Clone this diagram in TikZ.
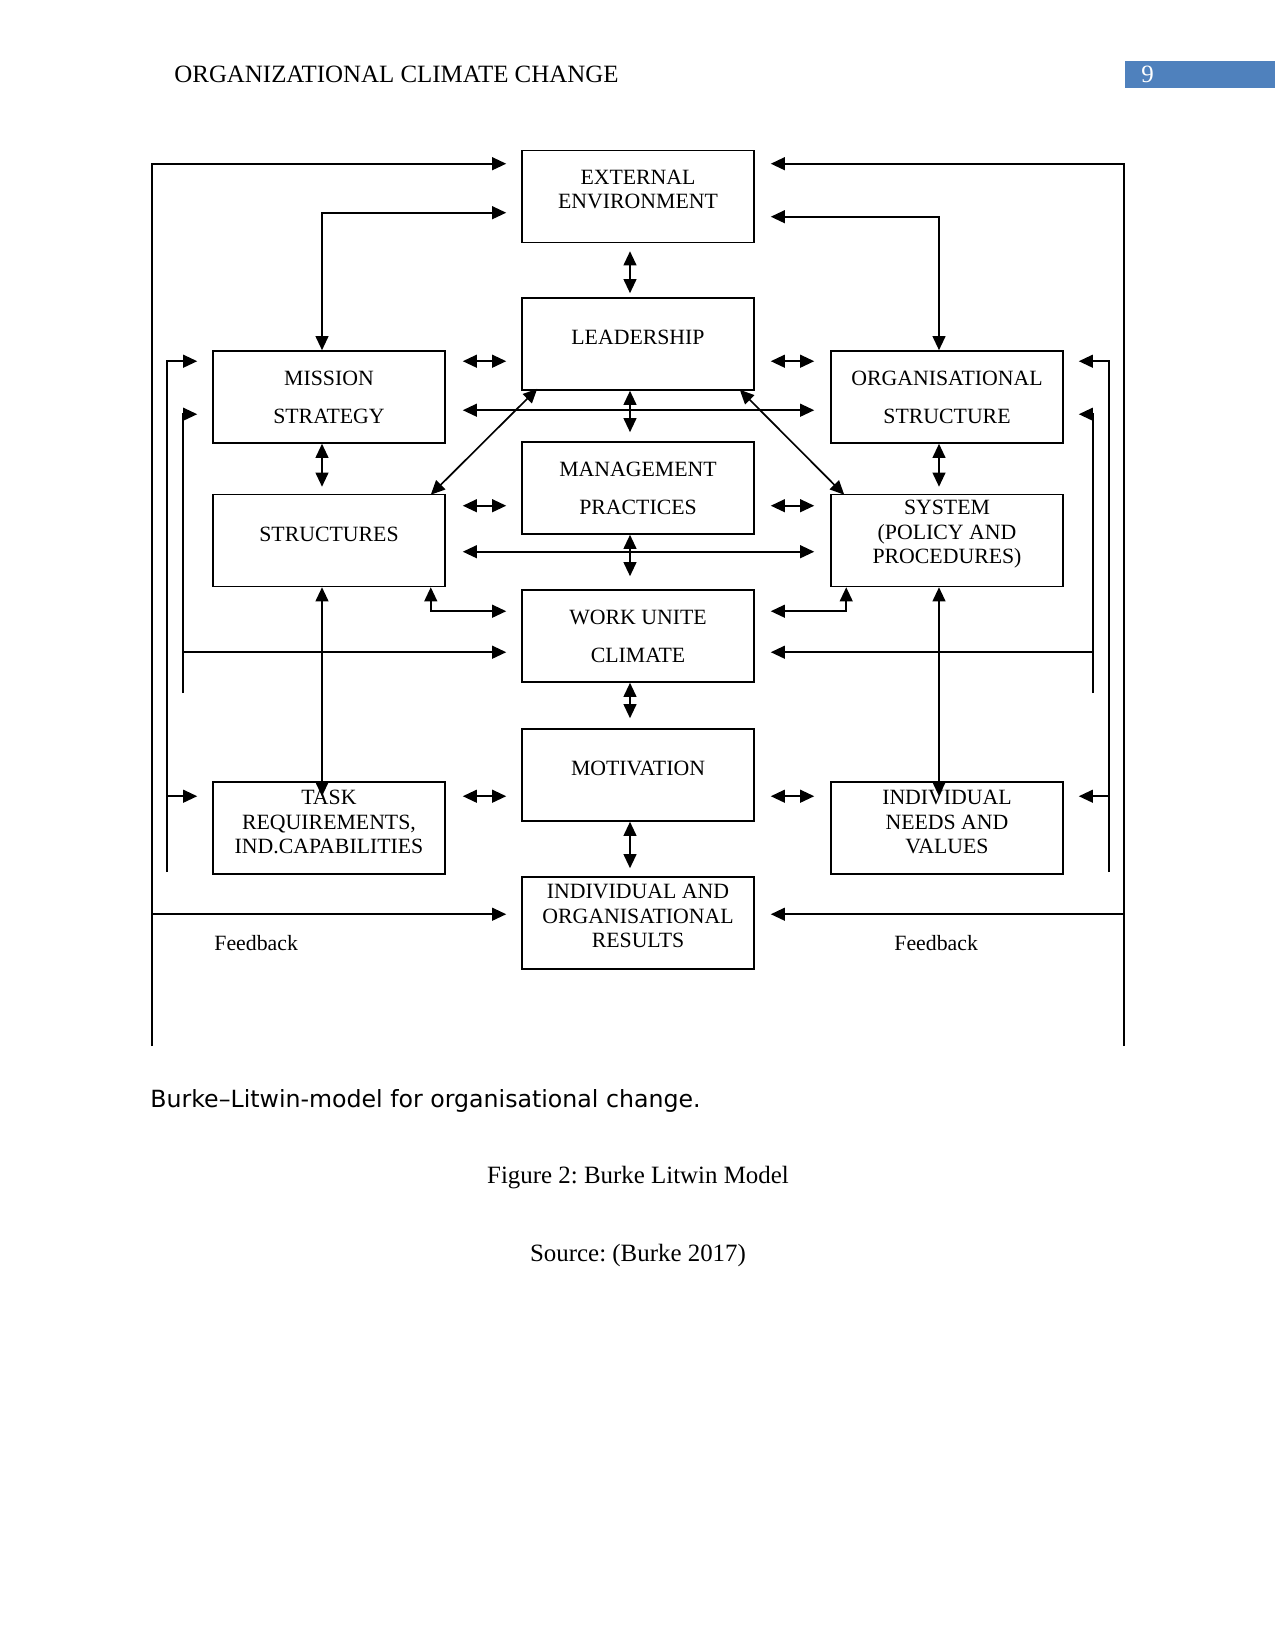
\documentclass[tikz,border=0pt]{standalone}
\usepackage{fontspec}
\setmainfont{Liberation Serif}
\newfontfamily\capfont{DejaVu Sans}
\usepackage{tikz}
\usetikzlibrary{calc,arrows.meta}
\definecolor{pagenum}{RGB}{79, 129, 189}
\newcommand\unitpx{0.4818pt}
\newcommand\boxfont{\fontsize{10.5}{11.8}\selectfont}
\frenchspacing

\tikzset{
  box/.style={draw, line width=0.75pt, minimum width=232*\unitpx, minimum height=92*\unitpx, inner sep=0pt},
  lbl/.style={font=\boxfont, align=center, inner sep=0pt},
  arr/.style={line width=0.8pt, -{Triangle[length=6.8pt, width=6.2pt]}},
  dbl/.style={line width=0.8pt, {Triangle[length=6.8pt, width=6.2pt]}-{Triangle[length=6.8pt, width=6.2pt]}}
}

\begin{document}
\begin{tikzpicture}[x=0.4818pt, y=-0.4818pt]
  \useasboundingbox (0,0) rectangle (1275,1651);

  % Running head
  \node[anchor=base west, font=\fontsize{12}{14}\selectfont, inner sep=0pt] (head) at (174,83) {ORGANIZATIONAL CLIMATE CHANGE};
  \fill[pagenum] (1125,61) rectangle (1275,88);
  \node[anchor=base west, white, font=\fontsize{12}{14}\selectfont, inner sep=0pt] (page) at (1141,83) {9};

  % Centre column
  \node[box] (ext) at (638,196.5) {};
  \node[box] (lead) at (638,344) {};
  \node[box] (mgmt) at (638,488) {};
  \node[box] (work) at (638,636) {};
  \node[box] (motiv) at (638,775) {};
  \node[box] (res) at (638,923) {};

  % Left column
  \node[box] (mission) at (329,397) {};
  \node[box] (struct) at (329,540.5) {};
  \node[box] (task) at (329,828) {};

  % Right column
  \node[box] (org) at (947,397) {};
  \node[box] (sys) at (947,540.5) {};
  \node[box] (needs) at (947,828) {};

  % Box texts
  \node[lbl] (extT) at ($(ext)+(0,-7)$) {EXTERNAL\\ENVIRONMENT};
  \node[lbl] (leadT) at ($(lead)+(0,-7)$) {LEADERSHIP};
  \node[lbl] (mgmtT) at (mgmt) {MANAGEMENT\\[6.5pt]PRACTICES};
  \node[lbl] (workT) at (work) {WORK UNITE\\[6.5pt]CLIMATE};
  \node[lbl] (motivT) at ($(motiv)+(0,-7)$) {MOTIVATION};
  \node[lbl] (resT) at ($(res)+(0,-7)$) {INDIVIDUAL AND\\ORGANISATIONAL\\RESULTS};
  \node[lbl] (missionT) at (mission) {MISSION\\[6.5pt]STRATEGY};
  \node[lbl] (structT) at ($(struct)+(0,-6)$) {STRUCTURES};
  \node[lbl] (taskT) at ($(task)+(0,-6)$) {TASK\\REQUIREMENTS,\\IND.CAPABILITIES};
  \node[lbl] (orgT) at (org) {ORGANISATIONAL\\[6.5pt]STRUCTURE};
  \node[lbl] (sysT) at ($(sys)+(0,-6)$) {SYSTEM\\(POLICY AND\\PROCEDURES)};
  \node[lbl] (needsT) at ($(needs)+(0,-6)$) {INDIVIDUAL\\NEEDS AND\\VALUES};

  % Vertical links
  \draw[dbl] ($(ext.south)+(-8,8)$) -- ($(lead.north)+(-8,-4)$);
  \draw[dbl] ($(lead.south)+(-8,0)$) -- ($(mgmt.north)+(-8,-9)$);
  \draw[dbl] ($(mgmt.south)+(-8,0)$) -- ($(work.north)+(-8,-13)$);
  \draw[dbl] ($(work.south)+(-8,0)$) -- ($(motiv.north)+(-8,-10)$);
  \draw[dbl] ($(motiv.south)+(-8,0)$) -- ($(res.north)+(-8,-8)$);
  \draw[dbl] ($(mission.south)+(-7,0)$) -- ($(struct.north)+(-7,-7)$);
  \draw[dbl] ($(org.south)+(-8,0)$) -- ($(sys.north)+(-8,-7)$);
  \draw[dbl] ($(struct.south)+(-7,0)$) -- ($(task.north)+(-7,15)$);
  \draw[dbl] ($(sys.south)+(-8,0)$) -- ($(needs.north)+(-8,15)$);

  % Horizontal links
  \draw[dbl] ($(mission.north east)+(17,11)$) -- ($(mission.north east -| lead.west)+(-15,11)$);
  \draw[dbl] ($(org.north west -| lead.east)+(16,11)$) -- ($(org.north west)+(-16,11)$);
  \draw[dbl] ($(struct.north east)+(17,12)$) -- ($(struct.north east -| mgmt.west)+(-15,12)$);
  \draw[dbl] ($(sys.north west -| mgmt.east)+(16,12)$) -- ($(sys.north west)+(-16,12)$);
  \draw[dbl] ($(task.north east)+(17,15)$) -- ($(task.north east -| motiv.west)+(-15,15)$);
  \draw[dbl] ($(needs.north west -| motiv.east)+(16,15)$) -- ($(needs.north west)+(-16,15)$);
  \draw[dbl] ($(mission.north east)+(17,60)$) -- ($(org.north west)+(-16,60)$);
  \draw[dbl] ($(struct.north east)+(17,58)$) -- ($(sys.north west)+(-16,58)$);

  % Diagonals from leadership
  \draw[dbl] ($(lead.south west)+(16,-2)$) -- ($(struct.north east)+(-15,1)$);
  \draw[dbl] ($(lead.south east)+(-15,-1)$) -- ($(sys.north west)+(14,1)$);

  % Elbows to work unit climate
  \draw[dbl] ($(struct.south east)+(-15,0)$) |- ($(work.north west)+(-15,22)$);
  \draw[dbl] ($(work.north east)+(16,22)$) -| ($(sys.south west)+(16,0)$);

  % External environment to mission and organisational structure
  \draw[dbl] ($(ext.north west)+(-15,63)$) -| ($(mission.north)+(-7,0)$);
  \draw[dbl] ($(ext.north east)+(16,67)$) -| ($(org.north)+(-8,0)$);

  % Feedback loops, left side
  \coordinate (fbL) at (152,1046);
  \coordinate (lnA) at (167,872);
  \coordinate (lnB) at (183,693);
  \coordinate (resL) at ($(res.north west)+(-15,38)$);
  \coordinate (taskL) at ($(task.north west)+(-15,15)$);
  \coordinate (workL) at ($(work.north west)+(-15,63)$);
  \draw[arr] (fbL) |- ($(ext.north west)+(-15,14)$);
  \draw[arr] (fbL |- resL) -- (resL);
  \draw[arr] (lnA) |- ($(mission.north west)+(-15,11)$);
  \draw[arr] (lnA |- taskL) -- (taskL);
  \draw[arr] (lnB) |- ($(mission.north west)+(-15,64)$);
  \draw[arr] (lnB |- workL) -- (workL);

  % Feedback loops, right side
  \coordinate (fbR) at (1124,1046);
  \coordinate (lnC) at (1109,872);
  \coordinate (lnD) at (1093,693);
  \coordinate (resR) at ($(res.north east)+(16,38)$);
  \coordinate (needsR) at ($(needs.north east)+(15,15)$);
  \coordinate (workR) at ($(work.north east)+(16,63)$);
  \draw[arr] (fbR) |- ($(ext.north east)+(16,14)$);
  \draw[arr] (fbR |- resR) -- (resR);
  \draw[arr] (lnC) |- ($(org.north east)+(15,11)$);
  \draw[arr] (lnC |- needsR) -- (needsR);
  \draw[arr] (lnD) |- ($(org.north east)+(15,64)$);
  \draw[arr] (lnD |- workR) -- (workR);

  \node[lbl, anchor=west] (fbTL) at (214,943) {Feedback};
  \node[lbl, anchor=west] (fbTR) at (894,943) {Feedback};

  % Captions
  \node[anchor=base west, inner sep=0pt, font=\capfont\fontsize{11.4}{13}\selectfont] (cap) at (150,1107) {Burke–Litwin-model for organisational change.};
  \node[anchor=base, inner sep=0pt, font=\fontsize{12}{14}\selectfont] (fig) at (638,1183) {Figure 2: Burke Litwin Model};
  \node[anchor=base, inner sep=0pt, font=\fontsize{12}{14}\selectfont] (src) at (638,1261) {Source: (Burke 2017)};
\end{tikzpicture}
\end{document}
